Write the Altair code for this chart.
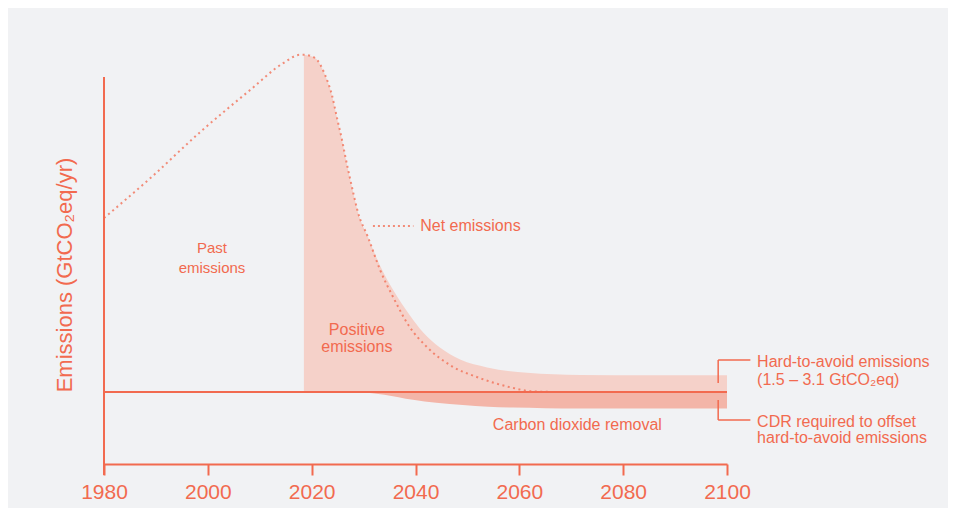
import altair as alt
import pandas as pd

# ---- data ----
net_years = [1980, 1989, 1998.5, 2008.1, 2014.5, 2017.8, 2018.5, 2020.6, 2022.6, 2023.9, 2024.9,
             2025.8, 2026.4, 2027.8, 2028.9, 2030.9, 2033.2, 2035.7, 2038.9, 2042.2, 2047.2,
             2051.8, 2058.2, 2062.6, 2068]
net_values = [29.0, 35.7, 43.3, 50.3, 54.8, 56.2, 56.2, 55.7, 52.8, 49.5, 45.6,
              42.2, 39.6, 34.0, 30.0, 25.7, 20.3, 15.8, 10.8, 7.5, 4.2,
              2.5, 0.8, 0.1, 0.0]

gross_years = [2018.5, 2020.6, 2022.6, 2023.9, 2024.9, 2025.8, 2026.4, 2027.8, 2028.9, 2030.9,
               2033.2, 2035.7, 2038.9, 2041.4, 2044.7, 2048.6, 2053.8, 2061.5, 2071.7, 2085, 2100]
gross_values = [56.2, 55.7, 52.8, 49.5, 45.6, 42.2, 39.6, 34.0, 30.0, 25.7,
                21.0, 17.0, 12.8, 10.0, 7.4, 5.4, 4.1, 3.2, 2.85, 2.8, 2.8]

cdr_years = [2029.3, 2034, 2039.5, 2044, 2049.1, 2054, 2058.8, 2065, 2071.7, 2100]
cdr_values = [0, -0.45, -1.3, -1.8, -2.15, -2.45, -2.6, -2.7, -2.75, -2.75]

x_ticks = [1980, 2000, 2020, 2040, 2060, 2080, 2100]

# ---- styling ----
ORANGE = "#f26a4f"
LIGHT = "#f5d1c9"
DARK = "#f3b5a8"
BG = "#f1f2f4"
FONT = "Liberation Sans"

xs = alt.Scale(domain=[1980, 2100], nice=False, zero=False)
ys = alt.Scale(domain=[-12, 58], nice=False, zero=False)

net_df = pd.DataFrame({"year": net_years, "v": net_values})
gross_df = pd.DataFrame({"year": gross_years, "v": gross_values})
cdr_df = pd.DataFrame({"year": cdr_years, "v": cdr_values})

xaxis = alt.Axis(values=x_ticks, format="d", title=None, grid=False,
                 domainColor=ORANGE, domainWidth=2, tickColor=ORANGE, tickWidth=2,
                 tickSize=11, labelColor=ORANGE, labelFontSize=21, labelFont=FONT,
                 labelPadding=6, labelFlush=False)

gross = alt.Chart(gross_df).mark_area(color=LIGHT, interpolate="monotone").encode(
    x=alt.X("year:Q", scale=xs, axis=xaxis),
    y=alt.Y("v:Q", scale=ys, axis=None),
    y2=alt.datum(0),
)

cdr = alt.Chart(cdr_df).mark_area(color=DARK, interpolate="monotone").encode(
    x=alt.X("year:Q", scale=xs),
    y=alt.Y("v:Q", scale=ys),
    y2=alt.datum(0),
)

net = alt.Chart(net_df).mark_line(color=ORANGE, strokeWidth=2, strokeDash=[2, 3.5],
                                  opacity=0.75, interpolate="monotone").encode(
    x=alt.X("year:Q", scale=xs),
    y=alt.Y("v:Q", scale=ys),
)

zero_df = pd.DataFrame({"x": [1980], "x2": [2100], "y": [0]})
zero = alt.Chart(zero_df).mark_rule(color=ORANGE, strokeWidth=2).encode(
    x=alt.X("x:Q", scale=xs), x2="x2:Q", y=alt.Y("y:Q", scale=ys))

yaxis_df = pd.DataFrame({"x": [1980], "y": [52.5]})
yaxis = alt.Chart(yaxis_df).mark_rule(color=ORANGE, strokeWidth=2).encode(
    x=alt.X("x:Q", scale=xs), y=alt.Y("y:Q", scale=ys), y2=alt.value(431))

# annotation brackets & leader
seg_df = pd.DataFrame({
    "x": [2098.3, 2098.3, 2098.3, 2098.3],
    "x2": [2104.5, 2098.3, 2098.3, 2104.5],
    "y": [5.33, 5.33, -1.33, -4.67],
    "y2": [5.33, 1.5, -4.67, -4.67],
})
segs = alt.Chart(seg_df).mark_rule(color=ORANGE, strokeWidth=1.5).encode(
    x=alt.X("x:Q", scale=xs), x2="x2:Q", y=alt.Y("y:Q", scale=ys), y2="y2:Q")

leader_df = pd.DataFrame({"x": [2031.8], "x2": [2039.6], "y": [27.67]})
leader = alt.Chart(leader_df).mark_rule(color=ORANGE, strokeWidth=2, strokeDash=[2, 3],
                                        opacity=0.75).encode(
    x=alt.X("x:Q", scale=xs), x2="x2:Q", y=alt.Y("y:Q", scale=ys))

center_labels = pd.DataFrame({
    "t": ["Past", "emissions", "Positive", "emissions"],
    "x": [2000.8, 2000.8, 2028.7, 2028.7],
    "y": [24.0, 20.67, 10.33, 7.5],
    "s": [15, 15, 16, 16],
})
ctext = alt.Chart(center_labels).mark_text(color=ORANGE, font=FONT,
                                           align="center", baseline="middle").encode(
    x=alt.X("x:Q", scale=xs), y=alt.Y("y:Q", scale=ys), text="t:N",
    size=alt.Size("s:Q", scale=None, legend=None))

left_labels = pd.DataFrame({
    "t": ["Net emissions", "Carbon dioxide removal", "Hard-to-avoid emissions",
          "(1.5 – 3.1 GtCO₂eq)", "CDR required to offset", "hard-to-avoid emissions"],
    "x": [2040.9, 2054.9, 2105.8, 2105.8, 2105.8, 2105.8],
    "y": [27.67, -5.5, 5.0, 2.0, -5.0, -7.67],
})
ltext = alt.Chart(left_labels).mark_text(color=ORANGE, font=FONT, fontSize=16,
                                         align="left", baseline="middle").encode(
    x=alt.X("x:Q", scale=xs), y=alt.Y("y:Q", scale=ys), text="t:N")

ytitle = alt.Chart(pd.DataFrame({"t": ["Emissions (GtCO₂eq/yr)"]})).mark_text(
    color=ORANGE, font=FONT, fontSize=22, angle=270, align="center", baseline="middle"
).encode(x=alt.value(-39), y=alt.value(231), text="t:N")

chart = alt.layer(gross, cdr, net, zero, yaxis, segs, leader, ctext, ltext, ytitle).properties(
    width=623, height=420,
    autosize=alt.AutoSizeParams(type="none"),
    padding={"left": 96, "top": 36, "right": 221, "bottom": 44},
    background=BG,
).configure_view(stroke=None)

chart.save("out.html", embed_options={"renderer": "svg", "actions": False})
